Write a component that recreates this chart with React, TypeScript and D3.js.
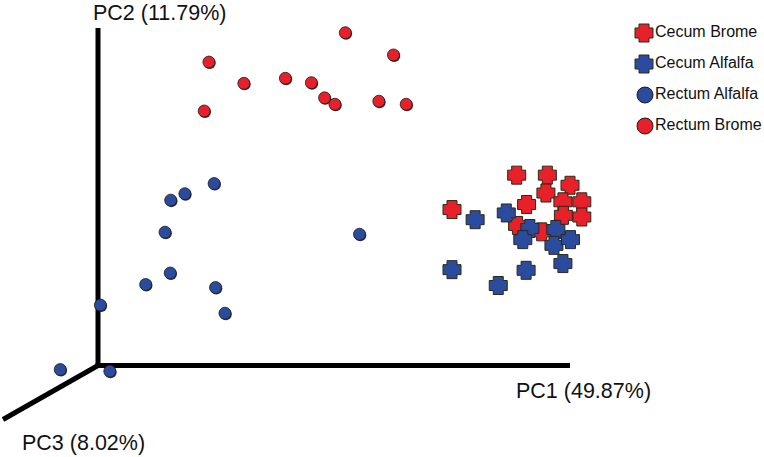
import React from "react";
import * as d3 from "d3";

// PCA scores projected onto the PC1 / PC2 plane (arbitrary units, 0..100 along the drawn axes)
const rectumBromeX = [52.4, 62.6, 23.5, 30.9, 39.7, 45.2, 48.0, 50.2, 59.5, 65.3, 22.5];
const rectumBromeY = [98.6, 92.0, 89.9, 83.6, 85.1, 83.8, 79.3, 77.4, 78.3, 77.4, 75.4];

const rectumAlfalfaX = [24.6, 18.4, 15.4, 14.2, 15.3, 10.1, 24.9, 26.9, 0.5, -8.0, 2.5, 55.4];
const rectumAlfalfaY = [53.9, 50.9, 49.0, 39.5, 27.4, 24.0, 23.1, 15.5, 17.9, -1.2, -1.7, 38.9];

const cecumBromeX = [88.7, 95.2, 100.0, 94.9, 90.8, 98.5, 102.5, 75.0, 98.6, 102.5, 88.9, 94.0];
const cecumBromeY = [56.4, 56.4, 53.4, 51.1, 47.7, 48.5, 48.5, 46.2, 44.5, 44.0, 41.5, 39.6];

const cecumAlfalfaX = [79.9, 86.5, 91.5, 90.0, 97.0, 96.6, 100.1, 98.5, 75.0, 90.7, 84.8];
const cecumAlfalfaY = [43.2, 45.2, 40.6, 37.3, 40.3, 35.6, 37.3, 30.2, 28.4, 28.2, 23.7];

const legendLabels = ["Cecum Brome", "Cecum Alfalfa", "Rectum Alfalfa", "Rectum Brome"];
const legendShapes = ["cross", "cross", "circle", "circle"];
const legendColors = ["red", "blue", "blue", "red"];

const axisLabels = ["PC1 (49.87%)", "PC2 (11.79%)", "PC3 (8.02%)"];

const RED = "#e8202a";
const BLUE = "#2b4c9e";
const W = 764;
const H = 457;
const FONT = "'Liberation Sans', Arial, Helvetica, sans-serif";

const x = d3.scaleLinear().domain([0, 100]).range([98, 570]);
const y = d3.scaleLinear().domain([0, 100]).range([365.5, 28]);

function crossPath(h: number, a: number) {
  const p: [number, number][] = [
    [-a, -h], [a, -h], [a, -a], [h, -a], [h, a], [a, a],
    [a, h], [-a, h], [-a, a], [-h, a], [-h, -a], [-a, -a],
  ];
  return d3.line()(p.concat([p[0]])) + "Z";
}

const CROSS = crossPath(9, 5);
const colorOf = (c: string) => (c === "red" ? RED : BLUE);

function Circle({ cx, cy, r, fill }: { cx: number; cy: number; r: number; fill: string }) {
  return (
    <g>
      <circle cx={cx + 0.8} cy={cy + 1} r={r} fill="#111" opacity={0.85} />
      <circle cx={cx} cy={cy} r={r} fill={fill} stroke="#1b1b1b" strokeWidth={0.8} />
    </g>
  );
}

function Cross({ cx, cy, fill }: { cx: number; cy: number; fill: string }) {
  return (
    <path
      d={CROSS}
      transform={`translate(${cx},${cy})`}
      fill={fill}
      stroke="#2a2a1a"
      strokeWidth={1}
      strokeLinejoin="round"
    />
  );
}

export default function App() {
  const ox = x(0);
  const oy = y(0);
  const zEnd: [number, number] = [ox - 95, oy + 54];

  return (
    <svg
      width={W}
      height={H}
      style={{ position: "absolute", left: 0, top: 0, background: "#fff" }}
      fontFamily={FONT}
    >
      {/* axes */}
      <line x1={ox} y1={y(100)} x2={ox} y2={oy + 2} stroke="#000" strokeWidth={5} />
      <line x1={ox - 2.5} y1={oy} x2={x(100)} y2={oy} stroke="#000" strokeWidth={5} />
      <line x1={ox} y1={oy} x2={zEnd[0]} y2={zEnd[1]} stroke="#000" strokeWidth={5} />

      {/* axis labels */}
      <text x={516} y={398} fontSize={21.5} fill="#111">{axisLabels[0]}</text>
      <text x={93} y={19.5} fontSize={21.5} fill="#111">{axisLabels[1]}</text>
      <text x={22} y={450} fontSize={21.5} fill="#111">{axisLabels[2]}</text>

      {/* Rectum Brome */}
      {rectumBromeX.map((v, i) => (
        <Circle key={"rb" + i} cx={x(v)} cy={y(rectumBromeY[i])} r={6} fill={RED} />
      ))}
      {/* Rectum Alfalfa */}
      {rectumAlfalfaX.map((v, i) => (
        <Circle key={"ra" + i} cx={x(v)} cy={y(rectumAlfalfaY[i])} r={6} fill={BLUE} />
      ))}
      {/* Cecum Brome */}
      {cecumBromeX.map((v, i) => (
        <Cross key={"cb" + i} cx={x(v)} cy={y(cecumBromeY[i])} fill={RED} />
      ))}
      {/* Cecum Alfalfa */}
      {cecumAlfalfaX.map((v, i) => (
        <Cross key={"ca" + i} cx={x(v)} cy={y(cecumAlfalfaY[i])} fill={BLUE} />
      ))}

      {/* legend */}
      {legendLabels.map((lab, i) => {
        const my = 33 + i * 31;
        const fill = colorOf(legendColors[i]);
        return (
          <g key={lab}>
            {legendShapes[i] === "cross" ? (
              <Cross cx={644} cy={my} fill={fill} />
            ) : (
              <circle cx={645} cy={my} r={8} fill={fill} stroke="#1b1b1b" strokeWidth={1} />
            )}
            <text x={655} y={my + 3.5} fontSize={16} fill="#111">{lab}</text>
          </g>
        );
      })}
    </svg>
  );
}
